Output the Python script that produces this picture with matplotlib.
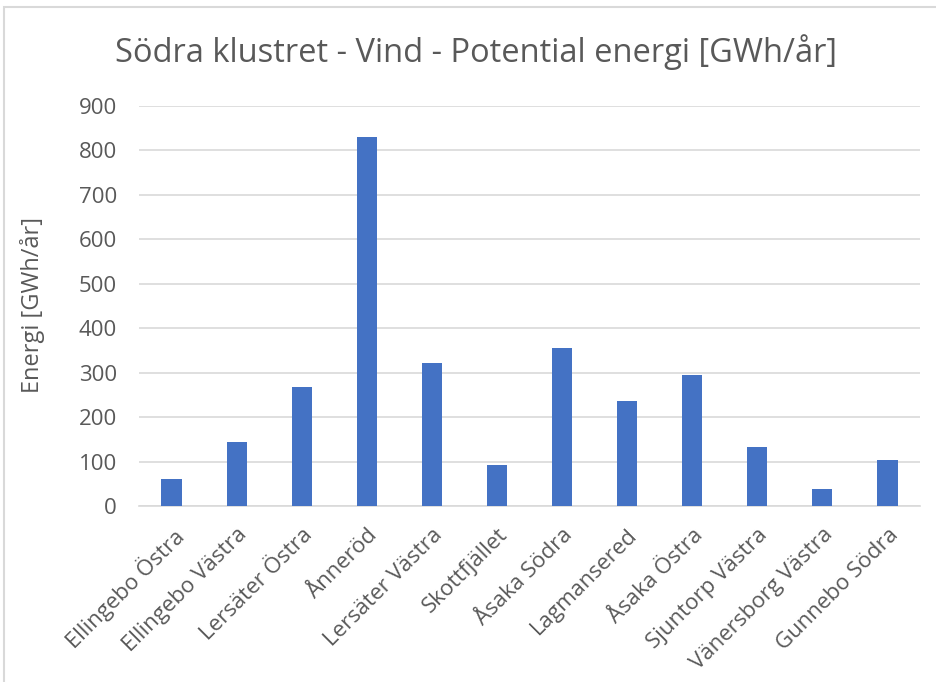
import matplotlib
matplotlib.use('Agg')
import matplotlib.pyplot as plt
from matplotlib.patches import Rectangle

# vindparker i södra klustret och deras potentiella energi
parker = ['Ellingebo Östra', 'Ellingebo Västra', 'Lersäter Östra', 'Ånneröd',
          'Lersäter Västra', 'Skottfjället', 'Åsaka Södra', 'Lagmansered',
          'Åsaka Östra', 'Sjuntorp Västra', 'Vänersborg Västra', 'Gunnebo Södra']
energi = [61, 145, 268, 830, 323, 92, 355, 237, 295, 133, 39, 104]  # GWh/år
y_ticks = [0, 100, 200, 300, 400, 500, 600, 700, 800, 900]

BLA = '#4472c4'
GRA_TEXT = '#595959'
GRA_LINJE = '#d9d9d9'

plt.rcParams['font.family'] = ['Open Sans', 'DejaVu Sans']

fig = plt.figure(figsize=(9.36, 6.82), dpi=100)
ax = fig.add_axes([139 / 936, 1 - 506.3 / 682, 781 / 936, 400.6 / 682])

# ram runt diagramytan
fig.patches.append(Rectangle((4 / 936, -0.1), 1.2, 1 - 7 / 682 + 0.1,
                             transform=fig.transFigure, fill=False,
                             edgecolor=GRA_LINJE, linewidth=1.5))

x = list(range(len(parker)))
ax.bar(x, energi, width=0.31, color=BLA, zorder=3)

ax.set_xlim(-0.5, len(parker) - 0.5)
ax.set_ylim(0, 900)
ax.set_yticks(y_ticks)
ax.set_xticks(x)
ax.set_xticklabels(parker, rotation=45, ha='right', rotation_mode='anchor')

ax.grid(axis='y', color=GRA_LINJE, linewidth=1.2, zorder=0)
for side in ['left', 'right', 'top']:
    ax.spines[side].set_visible(False)
ax.spines['bottom'].set_color(GRA_LINJE)
ax.spines['bottom'].set_linewidth(1.2)
ax.tick_params(axis='both', length=0, labelsize=16, labelcolor=GRA_TEXT)
ax.tick_params(axis='y', pad=16)
ax.tick_params(axis='x', pad=13)

fig.text(476 / 936, 1 - 52 / 682, 'Södra klustret - Vind - Potential energi [GWh/år]',
         ha='center', va='center', fontsize=23.5, color=GRA_TEXT)
fig.text(33 / 936, 1 - 305 / 682, 'Energi [GWh/år]', rotation=90,
         ha='center', va='center', fontsize=17, color=GRA_TEXT)

fig.savefig('out.png', dpi=100)
